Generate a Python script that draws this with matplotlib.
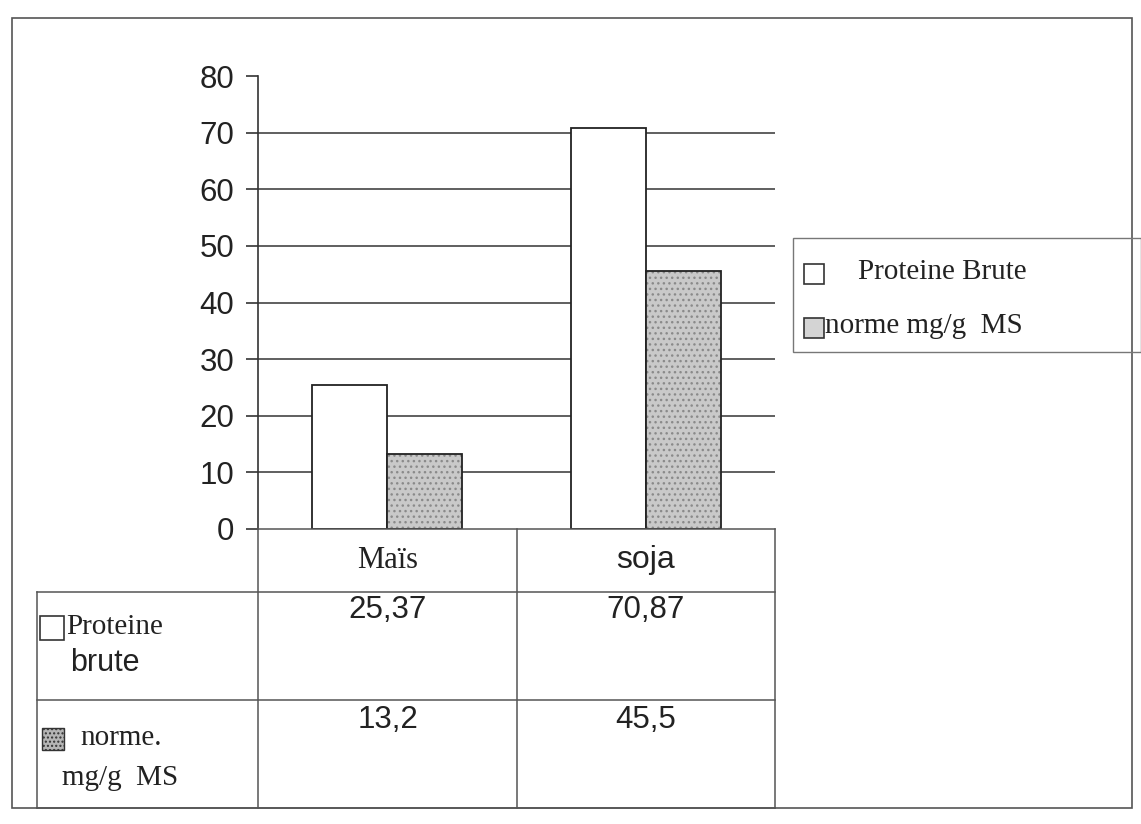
import matplotlib.pyplot as plt
from matplotlib.lines import Line2D
from matplotlib.patches import Rectangle

# Données
categories = ['Maïs', 'soja']
proteine_brute = [25.37, 70.87]
norme_ms = [13.2, 45.5]
proteine_txt = ['25,37', '70,87']
norme_txt = ['13,2', '45,5']
yticks = [0, 10, 20, 30, 40, 50, 60, 70, 80]

W, H = 1141, 824
fig = plt.figure(figsize=(W / 100, H / 100), dpi=100)
fig.patch.set_facecolor('white')

def fx(px):
    return px / W

def fy(py):
    return 1 - py / H

# zone du graphique
ax = fig.add_axes([fx(258), fy(529), fx(775) - fx(258), fy(76) - fy(529)])
x = list(range(len(categories)))
w = 0.29

ax.bar([i - w / 2 for i in x], proteine_brute, w, color='white',
       edgecolor='#222222', linewidth=1.3, zorder=3)
# barres tramées (fond gris + pointillé)
ax.bar([i + w / 2 for i in x], norme_ms, w, color='#c9c9c9',
       edgecolor='#8a8a8a', linewidth=0, hatch='...', zorder=3)
ax.bar([i + w / 2 for i in x], norme_ms, w, color='none',
       edgecolor='#222222', linewidth=1.3, zorder=4)

ax.set_xlim(-0.5, 1.5)
ax.set_ylim(0, 80)
ax.set_yticks(yticks)
ax.set_yticklabels([str(v) for v in yticks], fontsize=22.5,
                   family='Liberation Sans', color='#222222')
ax.tick_params(axis='y', direction='out', length=9, width=1.2,
               color='#333333', pad=8)
ax.set_xticks([])
for v in yticks[1:-1]:
    ax.axhline(v, color='#444444', linewidth=1.2, zorder=1)
for s in ['top', 'right', 'bottom']:
    ax.spines[s].set_visible(False)
ax.spines['left'].set_color('#333333')
ax.spines['left'].set_linewidth(1.2)

# cadre extérieur
fig.add_artist(Rectangle((fx(12), fy(808)), fx(1132) - fx(12), fy(18) - fy(808),
                         transform=fig.transFigure, fill=False,
                         edgecolor='#555555', linewidth=1.2))

# tableau de données sous le graphique
lc = '#555555'
def hline(y, x0, x1):
    fig.add_artist(Line2D([fx(x0), fx(x1)], [fy(y), fy(y)],
                          transform=fig.transFigure, color=lc, linewidth=1.1))

def vline(x, y0, y1):
    fig.add_artist(Line2D([fx(x), fx(x)], [fy(y0), fy(y1)],
                          transform=fig.transFigure, color=lc, linewidth=1.1))

hline(529, 258, 775)
hline(592, 37, 775)
hline(700, 37, 775)
hline(808, 37, 775)
vline(37, 592, 808)
for xv in [258, 517, 775]:
    vline(xv, 529, 808)

col_x = [388, 646]
fig.text(fx(col_x[0]), fy(560), categories[0], ha='center', va='center',
         fontsize=22, family='Liberation Serif', color='#222222')
fig.text(fx(col_x[1]), fy(560), categories[1], ha='center', va='center',
         fontsize=23, family='Liberation Sans', color='#222222')
for i in range(2):
    fig.text(fx(col_x[i]), fy(610), proteine_txt[i], ha='center', va='center',
             fontsize=22.5, family='Liberation Sans', color='#222222')
    fig.text(fx(col_x[i]), fy(720), norme_txt[i], ha='center', va='center',
             fontsize=22.5, family='Liberation Sans', color='#222222')

# en-têtes de lignes avec leur symbole
fig.add_artist(Rectangle((fx(40), fy(640)), fx(24) - fx(0), fy(0) - fy(24),
                         transform=fig.transFigure, facecolor='white',
                         edgecolor='#333333', linewidth=1.2))
fig.text(fx(66), fy(627), 'Proteine', ha='left', va='center',
         fontsize=21, family='Liberation Serif', color='#222222')
fig.text(fx(70), fy(663), 'brute', ha='left', va='center',
         fontsize=22, family='Liberation Sans', color='#222222')
fig.add_artist(Rectangle((fx(42), fy(750)), fx(22) - fx(0), fy(0) - fy(22),
                         transform=fig.transFigure, facecolor='#b5b5b5',
                         edgecolor='#333333', linewidth=1.0, hatch='....'))
fig.text(fx(80), fy(738), 'norme.', ha='left', va='center',
         fontsize=21, family='Liberation Serif', color='#222222')
fig.text(fx(62), fy(778), 'mg/g  MS', ha='left', va='center',
         fontsize=21, family='Liberation Serif', color='#222222')

# légende
fig.add_artist(Rectangle((fx(793), fy(352)), fx(1141) - fx(793), fy(238) - fy(352),
                         transform=fig.transFigure, fill=False,
                         edgecolor='#777777', linewidth=1.0))
fig.add_artist(Rectangle((fx(804), fy(284)), fx(20) - fx(0), fy(0) - fy(20),
                         transform=fig.transFigure, facecolor='white',
                         edgecolor='#333333', linewidth=1.2))
fig.text(fx(858), fy(272), 'Proteine Brute', ha='left', va='center',
         fontsize=21, family='Liberation Serif', color='#222222')
fig.add_artist(Rectangle((fx(804), fy(338)), fx(20) - fx(0), fy(0) - fy(20),
                         transform=fig.transFigure, facecolor='#d4d4d4',
                         edgecolor='#333333', linewidth=1.2))
fig.text(fx(825), fy(326), 'norme mg/g  MS', ha='left', va='center',
         fontsize=21, family='Liberation Serif', color='#222222')

fig.savefig('out.png', dpi=100)
